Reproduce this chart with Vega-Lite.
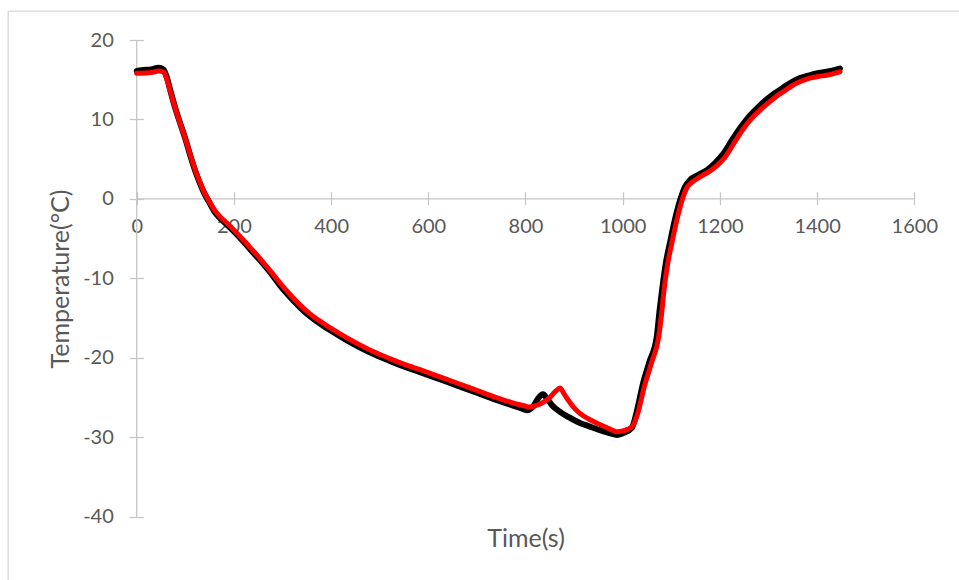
{
  "$schema": "https://vega.github.io/schema/vega-lite/v6.json",
  "width": 960,
  "height": 575,
  "autosize": {"type": "none"},
  "padding": {"left": 8, "top": 11, "right": 0, "bottom": 0},
  "background": "white",
  "config": {"view": {"stroke": "#d9d9d9", "strokeWidth": 1.3}, "font": "Lato"},
  "datasets": {
    "temps": [
      {"t": 0, "T": 16.1, "s": "A"}, {"t": 10, "T": 16.2, "s": "A"}, {"t": 30, "T": 16.3, "s": "A"}, {"t": 45, "T": 16.5, "s": "A"},
      {"t": 55, "T": 16.3, "s": "A"}, {"t": 62, "T": 15.3, "s": "A"}, {"t": 69, "T": 13.7, "s": "A"}, {"t": 80, "T": 11.3, "s": "A"},
      {"t": 89, "T": 9.6, "s": "A"}, {"t": 100, "T": 7.6, "s": "A"}, {"t": 110, "T": 5.5, "s": "A"}, {"t": 120, "T": 3.6, "s": "A"},
      {"t": 130, "T": 2.0, "s": "A"}, {"t": 140, "T": 0.6, "s": "A"}, {"t": 151, "T": -0.6, "s": "A"}, {"t": 160, "T": -1.6, "s": "A"},
      {"t": 171, "T": -2.4, "s": "A"}, {"t": 185, "T": -3.2, "s": "A"}, {"t": 200, "T": -4.1, "s": "A"}, {"t": 220, "T": -5.4, "s": "A"},
      {"t": 233, "T": -6.3, "s": "A"}, {"t": 255, "T": -7.8, "s": "A"}, {"t": 274, "T": -9.2, "s": "A"}, {"t": 295, "T": -10.9, "s": "A"},
      {"t": 315, "T": -12.3, "s": "A"}, {"t": 337, "T": -13.7, "s": "A"}, {"t": 357, "T": -14.8, "s": "A"}, {"t": 380, "T": -15.8, "s": "A"},
      {"t": 400, "T": -16.6, "s": "A"}, {"t": 430, "T": -17.7, "s": "A"}, {"t": 460, "T": -18.7, "s": "A"}, {"t": 490, "T": -19.6, "s": "A"},
      {"t": 521, "T": -20.4, "s": "A"}, {"t": 550, "T": -21.1, "s": "A"}, {"t": 583, "T": -21.8, "s": "A"}, {"t": 624, "T": -22.7, "s": "A"},
      {"t": 660, "T": -23.5, "s": "A"}, {"t": 700, "T": -24.4, "s": "A"}, {"t": 740, "T": -25.3, "s": "A"},
      {"t": 789, "T": -26.3, "s": "A"}, {"t": 803, "T": -26.6, "s": "A"}, {"t": 815, "T": -26.2, "s": "A"}, {"t": 825, "T": -25.2, "s": "A"},
      {"t": 836, "T": -24.6, "s": "A"}, {"t": 845, "T": -25.2, "s": "A"}, {"t": 855, "T": -26.0, "s": "A"}, {"t": 871, "T": -26.8, "s": "A"},
      {"t": 890, "T": -27.5, "s": "A"}, {"t": 912, "T": -28.2, "s": "A"}, {"t": 930, "T": -28.6, "s": "A"}, {"t": 953, "T": -29.1, "s": "A"},
      {"t": 975, "T": -29.5, "s": "A"}, {"t": 988, "T": -29.7, "s": "A"}, {"t": 1000, "T": -29.5, "s": "A"}, {"t": 1019, "T": -28.8, "s": "A"},
      {"t": 1030, "T": -26.5, "s": "A"}, {"t": 1042, "T": -23.2, "s": "A"}, {"t": 1055, "T": -20.5, "s": "A"}, {"t": 1070, "T": -17.4, "s": "A"},
      {"t": 1076, "T": -14.0, "s": "A"}, {"t": 1081, "T": -11.5, "s": "A"}, {"t": 1089, "T": -8.0, "s": "A"}, {"t": 1097, "T": -5.6, "s": "A"},
      {"t": 1108, "T": -2.5, "s": "A"}, {"t": 1118, "T": -0.2, "s": "A"}, {"t": 1128, "T": 1.5, "s": "A"}, {"t": 1139, "T": 2.4, "s": "A"},
      {"t": 1155, "T": 3.0, "s": "A"}, {"t": 1173, "T": 3.6, "s": "A"}, {"t": 1190, "T": 4.5, "s": "A"}, {"t": 1206, "T": 5.6, "s": "A"},
      {"t": 1227, "T": 7.6, "s": "A"}, {"t": 1245, "T": 9.2, "s": "A"}, {"t": 1262, "T": 10.5, "s": "A"}, {"t": 1280, "T": 11.6, "s": "A"},
      {"t": 1296, "T": 12.5, "s": "A"}, {"t": 1313, "T": 13.3, "s": "A"}, {"t": 1330, "T": 14.0, "s": "A"}, {"t": 1348, "T": 14.7, "s": "A"},
      {"t": 1365, "T": 15.2, "s": "A"}, {"t": 1382, "T": 15.5, "s": "A"}, {"t": 1399, "T": 15.8, "s": "A"}, {"t": 1420, "T": 16.0, "s": "A"},
      {"t": 1447, "T": 16.4, "s": "A"},

      {"t": 0, "T": 15.8, "s": "B"}, {"t": 10, "T": 15.8, "s": "B"}, {"t": 30, "T": 15.9, "s": "B"}, {"t": 45, "T": 16.1, "s": "B"},
      {"t": 55, "T": 16.0, "s": "B"}, {"t": 62, "T": 15.1, "s": "B"}, {"t": 69, "T": 13.6, "s": "B"}, {"t": 80, "T": 11.3, "s": "B"},
      {"t": 89, "T": 9.6, "s": "B"}, {"t": 100, "T": 7.6, "s": "B"}, {"t": 110, "T": 5.6, "s": "B"}, {"t": 120, "T": 3.7, "s": "B"},
      {"t": 130, "T": 2.1, "s": "B"}, {"t": 140, "T": 0.7, "s": "B"}, {"t": 151, "T": -0.5, "s": "B"}, {"t": 160, "T": -1.4, "s": "B"},
      {"t": 171, "T": -2.2, "s": "B"}, {"t": 185, "T": -3.0, "s": "B"}, {"t": 200, "T": -3.9, "s": "B"}, {"t": 220, "T": -5.2, "s": "B"},
      {"t": 233, "T": -6.1, "s": "B"}, {"t": 255, "T": -7.6, "s": "B"}, {"t": 274, "T": -9.0, "s": "B"}, {"t": 295, "T": -10.6, "s": "B"},
      {"t": 315, "T": -12.0, "s": "B"}, {"t": 337, "T": -13.4, "s": "B"}, {"t": 357, "T": -14.5, "s": "B"}, {"t": 380, "T": -15.5, "s": "B"},
      {"t": 400, "T": -16.3, "s": "B"}, {"t": 430, "T": -17.4, "s": "B"}, {"t": 460, "T": -18.4, "s": "B"}, {"t": 490, "T": -19.3, "s": "B"},
      {"t": 521, "T": -20.1, "s": "B"}, {"t": 550, "T": -20.8, "s": "B"}, {"t": 583, "T": -21.5, "s": "B"}, {"t": 624, "T": -22.4, "s": "B"},
      {"t": 660, "T": -23.2, "s": "B"}, {"t": 700, "T": -24.1, "s": "B"}, {"t": 740, "T": -25.0, "s": "B"},
      {"t": 775, "T": -25.7, "s": "B"}, {"t": 795, "T": -26.0, "s": "B"}, {"t": 809, "T": -26.2, "s": "B"}, {"t": 822, "T": -26.0, "s": "B"},
      {"t": 836, "T": -25.6, "s": "B"}, {"t": 850, "T": -25.0, "s": "B"}, {"t": 862, "T": -24.2, "s": "B"}, {"t": 871, "T": -23.8, "s": "B"},
      {"t": 880, "T": -24.6, "s": "B"}, {"t": 890, "T": -25.5, "s": "B"}, {"t": 900, "T": -26.3, "s": "B"}, {"t": 912, "T": -27.0, "s": "B"},
      {"t": 930, "T": -27.7, "s": "B"}, {"t": 953, "T": -28.4, "s": "B"}, {"t": 975, "T": -29.0, "s": "B"}, {"t": 988, "T": -29.3, "s": "B"},
      {"t": 1000, "T": -29.2, "s": "B"}, {"t": 1019, "T": -28.7, "s": "B"}, {"t": 1030, "T": -27.2, "s": "B"}, {"t": 1045, "T": -23.5, "s": "B"},
      {"t": 1060, "T": -20.5, "s": "B"}, {"t": 1074, "T": -17.4, "s": "B"}, {"t": 1080, "T": -14.5, "s": "B"}, {"t": 1085, "T": -11.5, "s": "B"},
      {"t": 1093, "T": -8.0, "s": "B"}, {"t": 1101, "T": -5.6, "s": "B"}, {"t": 1112, "T": -2.5, "s": "B"}, {"t": 1122, "T": -0.2, "s": "B"},
      {"t": 1132, "T": 1.4, "s": "B"}, {"t": 1143, "T": 2.1, "s": "B"}, {"t": 1160, "T": 2.8, "s": "B"}, {"t": 1177, "T": 3.4, "s": "B"},
      {"t": 1194, "T": 4.2, "s": "B"}, {"t": 1210, "T": 5.2, "s": "B"}, {"t": 1230, "T": 7.1, "s": "B"}, {"t": 1248, "T": 8.8, "s": "B"},
      {"t": 1265, "T": 10.1, "s": "B"}, {"t": 1283, "T": 11.2, "s": "B"}, {"t": 1300, "T": 12.1, "s": "B"}, {"t": 1316, "T": 12.9, "s": "B"},
      {"t": 1333, "T": 13.6, "s": "B"}, {"t": 1350, "T": 14.3, "s": "B"}, {"t": 1367, "T": 14.8, "s": "B"}, {"t": 1385, "T": 15.2, "s": "B"},
      {"t": 1402, "T": 15.4, "s": "B"}, {"t": 1422, "T": 15.6, "s": "B"}, {"t": 1447, "T": 16.0, "s": "B"}
    ],
    "axisLines": [
      {"x0": 0, "x1": 1600, "y0": 0, "y1": 0},
      {"x0": 0, "x1": 0, "y0": -40, "y1": 20}
    ]
  },
  "layer": [
    {
      "data": {"name": "axisLines"},
      "mark": {"type": "rule", "color": "#c6c6c6", "strokeWidth": 1.3},
      "encoding": {
        "x": {"field": "x0", "type": "quantitative", "title": "Time(s)", "scale": {"domain": [-264.8, 1710.5], "nice": false, "zero": false}},
        "x2": {"field": "x1"},
        "y": {"field": "y0", "type": "quantitative", "title": "Temperature(°C)", "scale": {"domain": [-48.72, 23.65], "nice": false, "zero": false}},
        "y2": {"field": "y1"}
      }
    },
    {
      "data": {"name": "temps"},
      "mark": {"type": "line", "interpolate": "monotone", "strokeCap": "round", "strokeJoin": "round"},
      "encoding": {
        "x": {
          "field": "t", "type": "quantitative", "title": "Time(s)",
          "scale": {"domain": [-264.8, 1710.5], "nice": false, "zero": false},
          "axis": {
            "values": [0, 200, 400, 600, 800, 1000, 1200, 1400, 1600],
            "labelExpr": "'' + datum.value",
            "domain": false, "grid": false, "offset": -394.3,
            "tickSize": 13, "tickColor": "#c6c6c6", "tickWidth": 1.3,
            "labelPadding": 12, "labelFontSize": 20, "labelColor": "#595959", "labelFont": "Lato",
            "labelFlush": false, "labelOverlap": false,
            "titleFont": "Lato", "titleFontSize": 25, "titleFontWeight": "normal", "titleColor": "#595959",
            "titleX": 517.5, "titleY": 347, "titleBaseline": "middle", "titleAlign": "center"
          }
        },
        "y": {
          "field": "T", "type": "quantitative", "title": "Temperature(°C)",
          "scale": {"domain": [-48.72, 23.65], "nice": false, "zero": false},
          "axis": {
            "values": [-40, -30, -20, -10, 0, 10, 20],
            "labelExpr": "'' + datum.value",
            "domain": false, "grid": false, "offset": -135.3,
            "tickSize": 14, "tickColor": "#c6c6c6", "tickWidth": 1.3,
            "labelPadding": 16, "labelFontSize": 20, "labelColor": "#595959", "labelFont": "Lato",
            "labelFlush": false, "labelOverlap": false,
            "titleFont": "Lato", "titleFontSize": 25, "titleFontWeight": "normal", "titleColor": "#595959",
            "titleX": -83, "titleY": 267.5, "titleBaseline": "middle", "titleAlign": "center", "titleAngle": -90
          }
        },
        "color": {"field": "s", "type": "nominal", "scale": {"domain": ["A", "B"], "range": ["#000000", "#ff0000"]}, "legend": null},
        "strokeWidth": {"field": "s", "type": "nominal", "scale": {"domain": ["A", "B"], "range": [6, 5]}, "legend": null},
        "order": {"field": "t", "type": "quantitative"}
      }
    }
  ]
}
